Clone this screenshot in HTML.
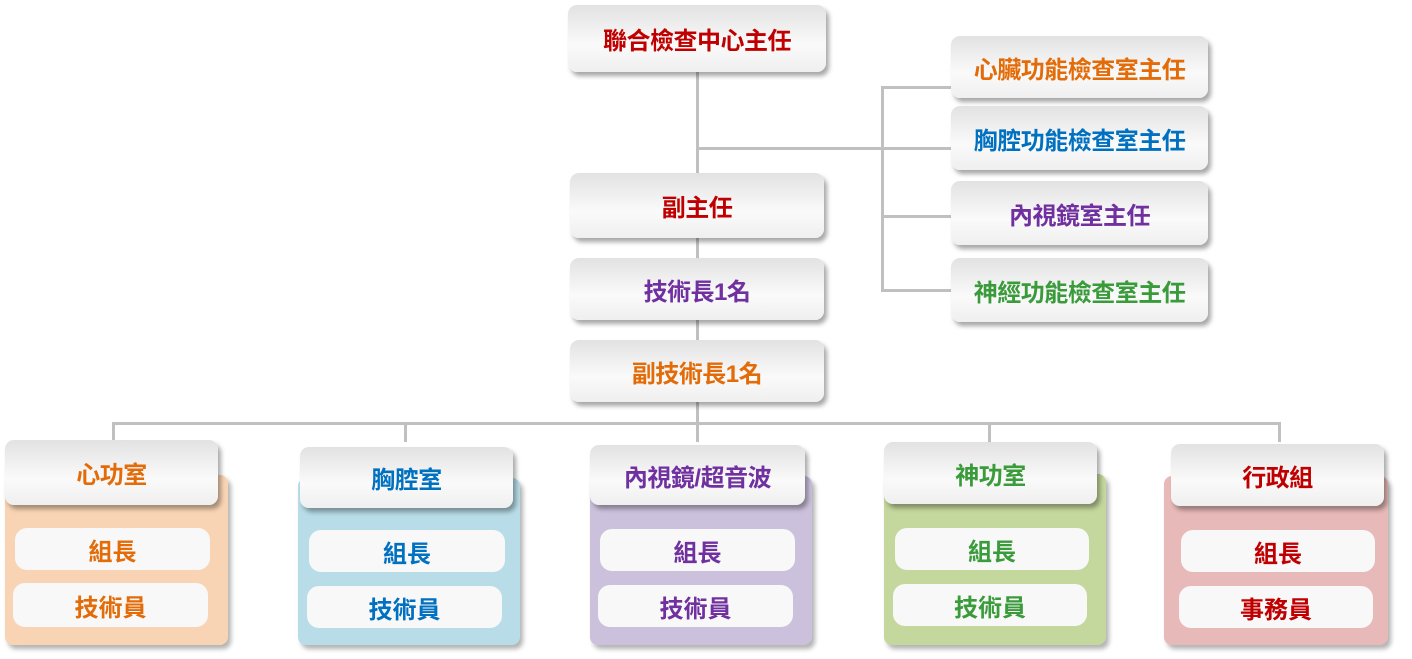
<!DOCTYPE html><html><head><meta charset="utf-8"><style>
body{margin:0;width:1412px;height:659px;background:#fff;position:relative;overflow:hidden;font-family:"Liberation Sans","Noto Sans CJK TC",sans-serif;font-weight:bold}
.b{position:absolute;box-sizing:border-box;border-radius:9px;background:linear-gradient(#e2e2e2,#fafafa 60%,#efefef);box-shadow:3px 4px 5px rgba(0,0,0,.35);display:flex;align-items:center;justify-content:center;font-size:24px;letter-spacing:-0.5px}
.l{position:absolute;background:#c0c0c0}
.p{position:absolute;border-radius:8px;box-shadow:3px 4px 5px rgba(0,0,0,.3)}
.s{position:absolute;border-radius:12px;background:#f8f8f8;display:flex;align-items:center;justify-content:center;font-size:24px}
</style></head><body>
<div class="l" style="left:696px;top:72px;width:3px;height:340px"></div>
<div class="l" style="left:697px;top:147px;width:255px;height:3px"></div>
<div class="l" style="left:881px;top:86px;width:3px;height:206px"></div>
<div class="l" style="left:881px;top:86px;width:70px;height:3px"></div>
<div class="l" style="left:881px;top:215px;width:70px;height:3px"></div>
<div class="l" style="left:881px;top:289px;width:70px;height:3px"></div>
<div class="l" style="left:112px;top:422px;width:1169px;height:3px"></div>
<div class="l" style="left:112px;top:422px;width:3px;height:20px"></div>
<div class="l" style="left:404px;top:422px;width:3px;height:20px"></div>
<div class="l" style="left:696px;top:402px;width:3px;height:40px"></div>
<div class="l" style="left:988px;top:422px;width:3px;height:20px"></div>
<div class="l" style="left:1278px;top:422px;width:3px;height:20px"></div>

<div class="b" style="left:568px;top:5px;width:258px;height:67px;color:#c00000">聯合檢查中心主任</div>
<div class="b" style="left:570px;top:173px;width:254px;height:65px;color:#c00000">副主任</div>
<div class="b" style="left:570px;top:258px;width:254px;height:62px;color:#7030a0">技術長1名</div>
<div class="b" style="left:570px;top:340px;width:254px;height:62px;color:#e36c09">副技術長1名</div>
<div class="b" style="left:951px;top:36px;width:257px;height:62px;color:#e36c09">心臟功能檢查室主任</div>
<div class="b" style="left:951px;top:106px;width:257px;height:64px;color:#0070c0">胸腔功能檢查室主任</div>
<div class="b" style="left:951px;top:181px;width:257px;height:64px;color:#7030a0">內視鏡室主任</div>
<div class="b" style="left:951px;top:258px;width:257px;height:64px;color:#3a9b3a">神經功能檢查室主任</div>

<div class="p" style="left:5px;top:475px;width:223px;height:170px;background:#f9d4b4"></div>
<div class="b" style="left:5px;top:440px;width:213px;height:65px;color:#e36c09">心功室</div>
<div class="s" style="left:15px;top:528px;width:195px;height:42px;color:#e36c09">組長</div>
<div class="s" style="left:13px;top:583px;width:195px;height:44px;color:#e36c09">技術員</div>

<div class="p" style="left:298px;top:478px;width:222px;height:167px;background:#b8dde8"></div>
<div class="b" style="left:300px;top:447px;width:213px;height:61px;color:#0070c0">胸腔室</div>
<div class="s" style="left:309px;top:530px;width:196px;height:42px;color:#0070c0">組長</div>
<div class="s" style="left:307px;top:586px;width:195px;height:42px;color:#0070c0">技術員</div>

<div class="p" style="left:590px;top:476px;width:222px;height:169px;background:#ccc1dc"></div>
<div class="b" style="left:590px;top:445px;width:215px;height:60px;color:#7030a0">內視鏡/超音波</div>
<div class="s" style="left:600px;top:529px;width:195px;height:42px;color:#7030a0">組長</div>
<div class="s" style="left:598px;top:585px;width:195px;height:42px;color:#7030a0">技術員</div>

<div class="p" style="left:884px;top:474px;width:222px;height:171px;background:#c4d79c"></div>
<div class="b" style="left:884px;top:442px;width:213px;height:62px;color:#3a9b3a">神功室</div>
<div class="s" style="left:895px;top:528px;width:194px;height:42px;color:#3a9b3a">組長</div>
<div class="s" style="left:893px;top:584px;width:194px;height:42px;color:#3a9b3a">技術員</div>

<div class="p" style="left:1164px;top:476px;width:224px;height:169px;background:#e7b9b8"></div>
<div class="b" style="left:1171px;top:444px;width:213px;height:62px;color:#c00000">行政組</div>
<div class="s" style="left:1181px;top:530px;width:194px;height:42px;color:#c00000">組長</div>
<div class="s" style="left:1179px;top:586px;width:194px;height:42px;color:#c00000">事務員</div>
</body></html>
